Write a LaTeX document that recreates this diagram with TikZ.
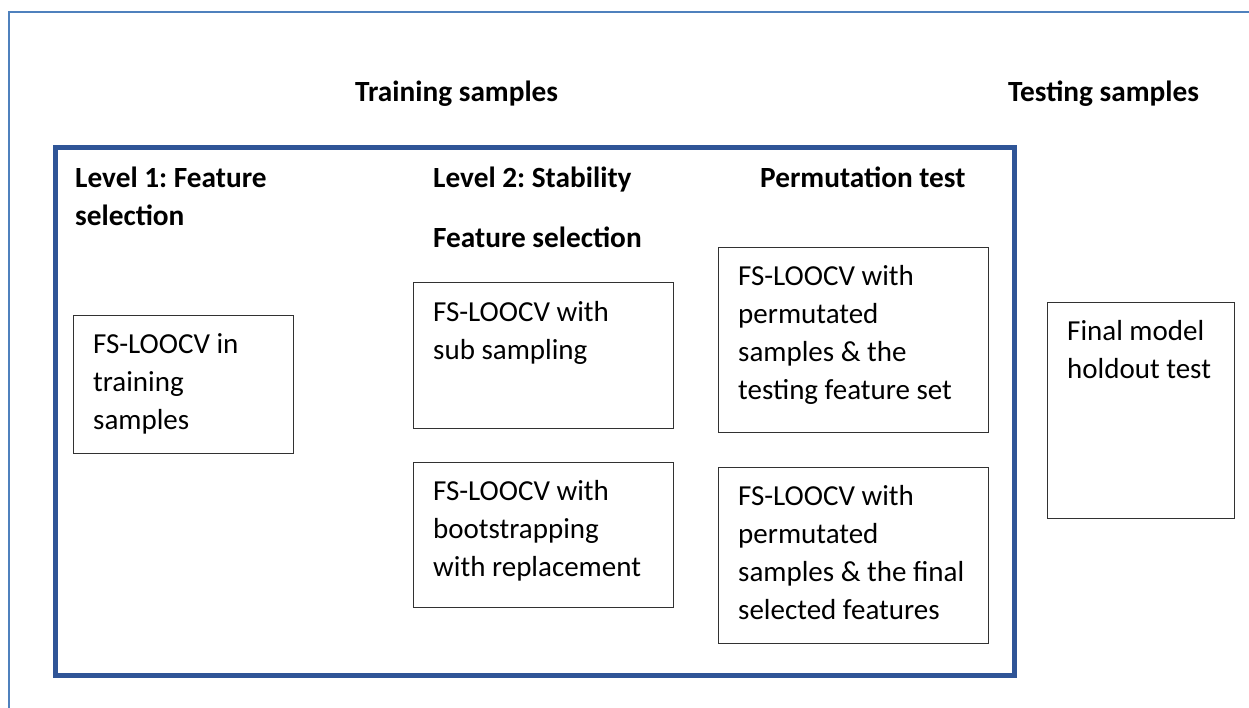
\documentclass[tikz,border=0pt]{standalone}
\definecolor{frameblue}{RGB}{79, 129, 189}
\definecolor{setblue}{RGB}{47, 85, 151}
\definecolor{boxgray}{RGB}{50, 50, 50}
\usepackage{fontspec}
\setmainfont{Carlito}
\usepackage{tikz}
\usetikzlibrary{positioning}
\frenchspacing

\begin{document}
\begin{tikzpicture}[x=1pt, y=-1pt,
    stepbox/.style={draw=boxgray, line width=1pt, inner sep=0pt, anchor=north west},
    boxtext/.style={font=\fontsize{29}{38}\selectfont, align=left, inner sep=0pt, anchor=base west},
    heading/.style={font=\fontsize{29.3}{38}\selectfont\bfseries, align=left, inner sep=0pt, anchor=base west}]
  \useasboundingbox (0,0) rectangle (1249,708);

  % Outer frame
  \draw[frameblue, line width=1.6pt] (9,708) -- (9,12) -- (1249,12);

  % Training set frame
  \draw[setblue, line width=5pt] (55.5,147.5) rectangle (1014.5,675.5);

  % Headings (base anchor sits on the last line)
  \node[heading] (train) at (355,102) {Training samples};
  \node[heading] (test) at (1008,102) {Testing samples};
  \node[heading] (lvlA) at (75,226) {Level 1: Feature\\selection};
  \node[heading] (lvlB) at (433,188) {Level 2: Stability};
  \node[heading] (fsel) at (433,248) {Feature selection};
  \node[heading] (perm) at (760,188) {Permutation test};

  % Level 1
  \node[stepbox, minimum width=220, minimum height=138] (boxA) at (73,315) {};
  \node[boxtext] (txtA) at ([shift={(20,114)}]boxA.north west) {FS-LOOCV in\\training\\samples};

  % Level 2
  \node[stepbox, minimum width=260, minimum height=146] (boxB) at (413,282) {};
  \node[boxtext] (txtB) at ([shift={(20,77)}]boxB.north west) {FS-LOOCV with\\sub sampling};
  \node[stepbox, minimum width=260, minimum height=145] (boxC) at (413,462) {};
  \node[boxtext] (txtC) at ([shift={(20,114)}]boxC.north west) {FS-LOOCV with\\bootstrapping\\with replacement};

  % Permutation test
  \node[stepbox, minimum width=270, minimum height=185] (boxD) at (718,247) {};
  \node[boxtext] (txtD) at ([shift={(20,152)}]boxD.north west) {FS-LOOCV with\\permutated\\samples \& the\\testing feature set};
  \node[stepbox, minimum width=270, minimum height=176] (boxE) at (718,467) {};
  \node[boxtext] (txtE) at ([shift={(20,152)}]boxE.north west) {FS-LOOCV with\\permutated\\samples \& the final\\selected features};

  % Holdout
  \node[stepbox, minimum width=187, minimum height=216] (boxF) at (1047,302) {};
  \node[boxtext] (txtF) at ([shift={(20,76)}]boxF.north west) {Final model\\holdout test};
\end{tikzpicture}
\end{document}
